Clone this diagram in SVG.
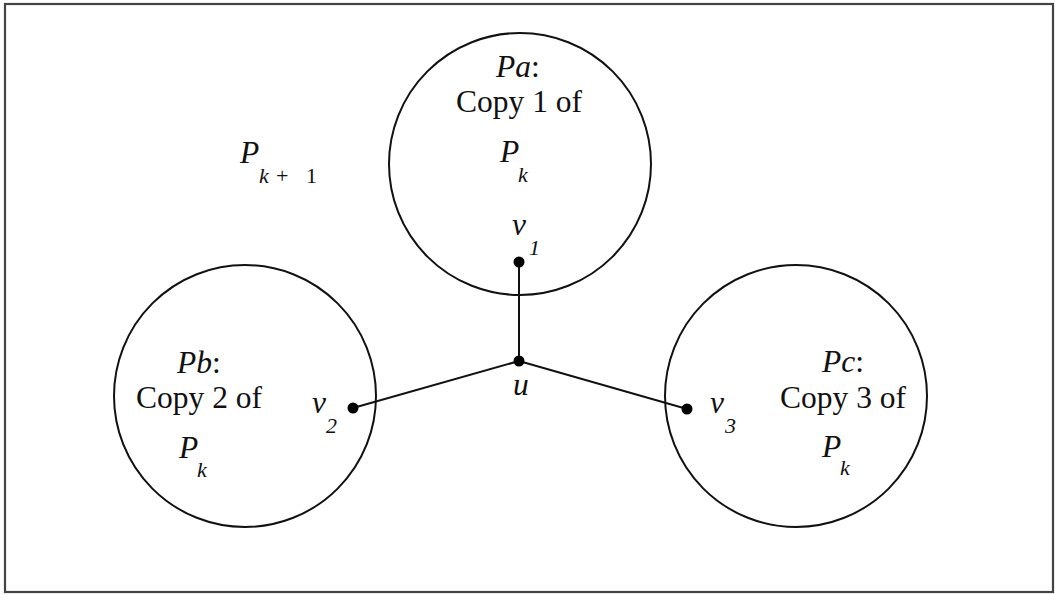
<svg xmlns="http://www.w3.org/2000/svg" width="1055" height="595" viewBox="0 0 1055 595">
<style>
text{font-family:"Liberation Serif","Times New Roman",serif;fill:#111}
.big{font-size:31.5px}
.it{font-style:italic}
.sub{font-size:22px}
.circ{fill:none;stroke:#111;stroke-width:2}
.edge{stroke:#111;stroke-width:2}
.dot{fill:#000}
</style>
<rect x="5" y="4" width="1048" height="588" fill="#fff" stroke="#444" stroke-width="2.2"/>
<g id="label-pk1">
<text class="big it" x="240" y="163">P</text>
<text class="sub it" x="259" y="183">k</text>
<text class="sub" x="276" y="183">+</text>
<text class="sub" x="306" y="183">1</text>
</g>
<g id="connectors">
<line class="edge" x1="519" y1="262" x2="519" y2="361"/>
<line class="edge" x1="519" y1="361" x2="353" y2="408"/>
<line class="edge" x1="519" y1="361" x2="687" y2="409"/>
</g>
<g id="Pa">
<circle class="circ" cx="520" cy="164" r="131"/>
<text class="big it" x="518" y="77" text-anchor="middle">Pa<tspan font-style="normal">:</tspan></text>
<text class="big" x="519" y="112" text-anchor="middle">Copy 1 of</text>
<text class="big it" x="500" y="162">P</text>
<text class="sub it" x="518" y="182">k</text>
</g>
<g id="Pb">
<circle class="circ" cx="245" cy="396" r="131"/>
<text class="big it" x="199" y="373" text-anchor="middle">Pb<tspan font-style="normal">:</tspan></text>
<text class="big" x="199" y="408" text-anchor="middle">Copy 2 of</text>
<text class="big it" x="179" y="458">P</text>
<text class="sub it" x="197" y="477">k</text>
</g>
<g id="Pc">
<circle class="circ" cx="796" cy="396" r="131"/>
<text class="big it" x="843" y="372" text-anchor="middle">Pc<tspan font-style="normal">:</tspan></text>
<text class="big" x="843" y="408" text-anchor="middle">Copy 3 of</text>
<text class="big it" x="822" y="457">P</text>
<text class="sub it" x="840" y="475">k</text>
</g>
<g id="v1">
<circle class="dot" cx="519" cy="262" r="5.5"/>
<text class="big it" x="512" y="235">v</text>
<text class="sub it" x="529" y="255">1</text>
</g>
<g id="u">
<circle class="dot" cx="519" cy="361" r="5.5"/>
<text class="big it" x="513" y="395">u</text>
</g>
<g id="v2">
<circle class="dot" cx="353" cy="408" r="5.5"/>
<text class="big it" x="312" y="413">v</text>
<text class="sub it" x="326" y="433">2</text>
</g>
<g id="v3">
<circle class="dot" cx="687" cy="409" r="5.5"/>
<text class="big it" x="710" y="413">v</text>
<text class="sub it" x="725" y="433">3</text>
</g>
</svg>
